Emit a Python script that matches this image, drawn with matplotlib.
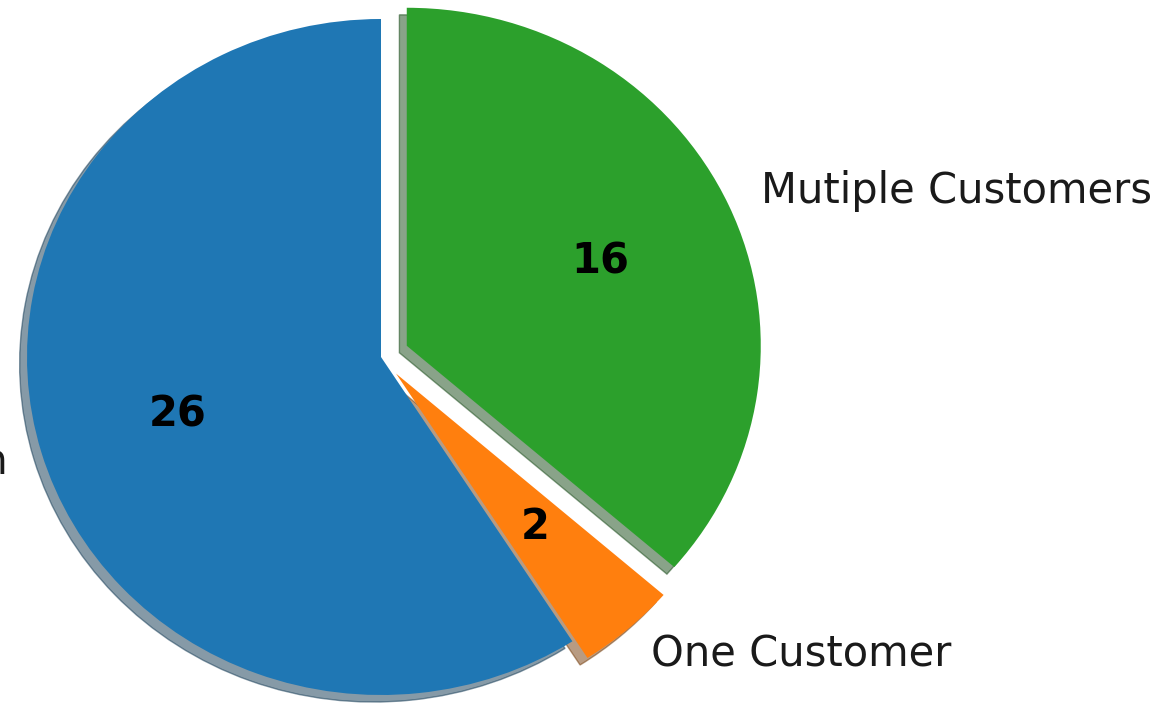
import matplotlib
matplotlib.use("Agg")
import matplotlib.pyplot as plt

labels = ["Own Production", "One Customer", "Mutiple Customers"]
values = [26, 2, 16]
explode = [0.0, 0.065, 0.08]
colors = ["#1f77b4", "#ff7f0e", "#2ca02c"]

W, H, DPI = 1171, 705, 100
fig = plt.figure(figsize=(W / DPI, H / DPI), dpi=DPI)
ax = fig.add_axes([0, 0, 1, 1])

total = sum(values)
wedges, texts, autotexts = ax.pie(
    values,
    labels=labels,
    explode=explode,
    colors=colors,
    startangle=90,
    shadow={"ox": -0.015, "oy": -0.015, "shade": 0.55},
    autopct=lambda p: f"{round(p * total / 100):d}",
    textprops={"fontsize": 30, "color": "#1a1a1a"},
)
for t in autotexts:
    t.set_fontweight("bold")
    t.set_color("black")

cx, cy = 381, 705 - 357
sx, sy = 354, 338
ax.set_aspect("auto")
ax.set_xlim(-cx / sx, (W - cx) / sx)
ax.set_ylim(-cy / sy, (H - cy) / sy)
ax.axis("off")

fig.savefig("out.png", dpi=DPI)
